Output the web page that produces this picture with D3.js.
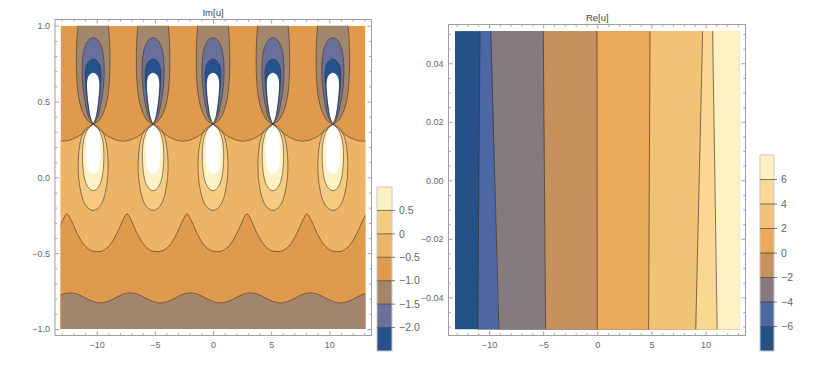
<!DOCTYPE html>
<html>
<head>
<meta charset="utf-8">
<script src="https://cdn.jsdelivr.net/npm/d3@7"></script>
<style>
body { margin: 0; background: #fff; }
text { font-family: "Liberation Sans", Arial, sans-serif; }
</style>
</head>
<body>
<svg id="chart" width="839" height="371"></svg>
<script>
// ---------- values ----------
// Im[u] panel: colour bands, low to high
var imLevels = [-2.0, -1.5, -1.0, -0.5, 0, 0.5];
var imColors = ["#25528f", "#6a7099", "#a3876c", "#e09a4e", "#edb467", "#f5cb82", "#fef1c3"];
var imLegendLabels = ["\u22122.0", "\u22121.5", "\u22121.0", "\u22120.5", "0", "0.5"];

// the five singular lobes and where their contours pinch together
var lobeCenters = [-10.3, -5.15, 0, 5.15, 10.3];
// half widths [y, halfWidth] of each closed contour, from the pinch to the tip
var upperM10 = [[0.35,0],[0.37,0.42],[0.40,0.72],[0.46,1.04],[0.53,1.25],[0.62,1.38],[0.72,1.44],[0.82,1.44],[0.92,1.39],[1.0,1.3],[1.08,1.1],[1.14,0.6],[1.16,0]];
var upperM15 = [[0.35,0],[0.40,0.4],[0.48,0.66],[0.58,0.86],[0.68,0.95],[0.76,0.93],[0.83,0.82],[0.88,0.6],[0.91,0.33],[0.92,0]];
var upperM20 = [[0.35,0],[0.41,0.3],[0.50,0.5],[0.60,0.63],[0.67,0.68],[0.72,0.64],[0.75,0.5],[0.77,0.3],[0.78,0]];
var upperHole = [[0.35,0],[0.39,0.2],[0.46,0.36],[0.54,0.48],[0.61,0.53],[0.65,0.48],[0.675,0.33],[0.69,0]];
var lowerP0 = [[0.35,0],[0.33,0.48],[0.30,0.82],[0.22,1.14],[0.11,1.28],[0.0,1.25],[-0.1,1.05],[-0.17,0.75],[-0.205,0.4],[-0.218,0]];
var lowerP05 = [[0.35,0],[0.32,0.45],[0.25,0.8],[0.15,0.92],[0.05,0.86],[-0.02,0.7],[-0.06,0.48],[-0.08,0.26],[-0.088,0]];
var lowerHole = [[0.35,0],[0.31,0.4],[0.25,0.58],[0.16,0.62],[0.09,0.56],[0.045,0.4],[0.022,0]];

// -0.5 contour under the lobes: one period [dx, y] around each pinch
var scallopCenters = [-15.45, -10.3, -5.15, 0, 5.15, 10.3, 15.45];
var scallopShape = [[-2.575,0.238],[-2.0,0.245],[-1.4,0.265],[-0.9,0.29],[-0.4,0.325],[0,0.35],[0.4,0.325],[0.9,0.29],[1.4,0.265],[2.0,0.245]];
// lower -0.5 contour: one period [dx, y] around each trough
var midTroughs = [-15.13, -9.97, -4.81, 0.34, 5.5, 10.66, 15.82];
var midShape = [[-2.58,-0.24],[-2.3,-0.27],[-2.0,-0.32],[-1.5,-0.40],[-1.0,-0.455],[-0.5,-0.483],[0,-0.49],[0.5,-0.483],[1.0,-0.455],[1.5,-0.40],[2.0,-0.32],[2.3,-0.27]];
// -1.0 contour near the bottom
var lowTroughs = [-14.85, -9.69, -4.53, 0.63, 5.79, 10.95, 16.11];
var lowShape = [[-2.58,-0.762],[-1.9,-0.772],[-1.3,-0.795],[-0.65,-0.818],[0,-0.828],[0.65,-0.818],[1.3,-0.795],[1.9,-0.772]];

// Re[u] panel
var reLevels = [-6, -4, -2, 0, 2, 4, 6];
var reColors = ["#255189", "#4c67a4", "#857b7f", "#c5915d", "#e9aa59", "#f2c276", "#fad893", "#fff1c1"];
var reLegendLabels = ["\u22126", "\u22124", "\u22122", "0", "2", "4", "6"];
// x where each contour meets the top (y = 0.051) and bottom (y = -0.051) edge
var reTopX = [-10.83, -9.84, -4.99, -0.03, 4.87, 9.73, 10.65];
var reBottomX = [-11.04, -9.08, -4.77, 0.0, 4.74, 9.09, 11.07];

var imXTicks = [-10, -5, 0, 5, 10], imYTicks = [-1, -0.5, 0, 0.5, 1];
var reXTicks = [-10, -5, 0, 5, 10], reYTicks = [-0.04, -0.02, 0, 0.02, 0.04];

// ---------- drawing ----------
var svg = d3.select("#chart");
var lineCol = "rgba(55,45,35,0.7)";

var xL = d3.scaleLinear().domain([-13.1, 13.1]).range([60.6, 365.4]);
var yL = d3.scaleLinear().domain([-1, 1]).range([329, 25.7]);
var xR = d3.scaleLinear().domain([-13.15, 13.15]).range([454.9, 739.7]);
var yR = d3.scaleLinear().domain([-0.051, 0.051]).range([329.5, 31.1]);

var defs = svg.append("defs");
defs.append("clipPath").attr("id", "clipL").append("rect")
    .attr("x", xL(-13.1)).attr("y", yL(1))
    .attr("width", xL(13.1) - xL(-13.1)).attr("height", yL(-1) - yL(1));
defs.append("clipPath").attr("id", "clipR").append("rect")
    .attr("x", xR(-13.15)).attr("y", yR(0.051))
    .attr("width", xR(13.15) - xR(-13.15)).attr("height", yR(-0.051) - yR(0.051));

// repeat a read profile at each anchor
function periodic(anchors, shape) {
  var pts = [];
  anchors.forEach(function(a) {
    shape.forEach(function(p) { pts.push([a + p[0], p[1]]); });
  });
  return pts;
}
function lobe(profile, cx) {
  var left = profile.map(function(p) { return [cx - p[1], p[0]]; });
  var right = profile.slice(0, -1).reverse().map(function(p) { return [cx + p[1], p[0]]; });
  return left.concat(right);
}

var gL = svg.append("g").attr("clip-path", "url(#clipL)");
gL.append("rect")
    .attr("x", xL(-13.1)).attr("y", yL(1))
    .attr("width", xL(13.1) - xL(-13.1)).attr("height", yL(-1) - yL(1))
    .attr("fill", imColors[3]);

var scallop = periodic(scallopCenters, scallopShape);
var midWave = periodic(midTroughs, midShape);
var lowWave = periodic(lowTroughs, lowShape);

function under(curve) {
  return d3.area().x(function(d) { return xL(d[0]); })
      .y0(yL(-1.1)).y1(function(d) { return yL(d[1]); }).curve(curve);
}
var lineL = function(curve) {
  return d3.line().x(function(d) { return xL(d[0]); }).y(function(d) { return yL(d[1]); }).curve(curve);
};

gL.append("path").attr("d", under(d3.curveLinear)(scallop)).attr("fill", imColors[4]);
gL.append("path").attr("d", under(d3.curveCatmullRom)(midWave)).attr("fill", imColors[3]);
gL.append("path").attr("d", under(d3.curveCatmullRom)(lowWave)).attr("fill", imColors[2]);

var lobeLine = lineL(d3.curveCatmullRom);
var upperSet = [[upperM10, imColors[2], true], [upperM15, imColors[1], true], [upperM20, imColors[0], true], [upperHole, "#fff", false]];
var lowerSet = [[lowerP0, imColors[5], true], [lowerP05, imColors[6], true], [lowerHole, "#fff", false]];

lobeCenters.forEach(function(cx) {
  upperSet.concat(lowerSet).forEach(function(s) {
    gL.append("path").attr("d", lobeLine(lobe(s[0], cx)) + "Z")
        .attr("fill", s[1]);
  });
});

// contour lines
gL.append("path").attr("d", lineL(d3.curveLinear)(scallop)).attr("fill", "none").attr("stroke", lineCol).attr("stroke-width", 0.8);
gL.append("path").attr("d", lineL(d3.curveCatmullRom)(midWave)).attr("fill", "none").attr("stroke", lineCol).attr("stroke-width", 0.8);
gL.append("path").attr("d", lineL(d3.curveCatmullRom)(lowWave)).attr("fill", "none").attr("stroke", lineCol).attr("stroke-width", 0.8);
lobeCenters.forEach(function(cx) {
  upperSet.concat(lowerSet).forEach(function(s) {
    if (!s[2]) return;
    gL.append("path").attr("d", lobeLine(lobe(s[0], cx)))
        .attr("fill", "none").attr("stroke", lineCol).attr("stroke-width", 0.8);
  });
});

// Re[u] panel
var gR = svg.append("g").attr("clip-path", "url(#clipR)");
gR.append("rect")
    .attr("x", xR(-13.15)).attr("y", yR(0.051))
    .attr("width", xR(13.15) - xR(-13.15)).attr("height", yR(-0.051) - yR(0.051))
    .attr("fill", reColors[0]);
reLevels.forEach(function(lv, i) {
  var pts = [[reTopX[i], 0.06], [reBottomX[i], -0.06], [14, -0.06], [14, 0.06]];
  gR.append("path")
      .attr("d", "M" + pts.map(function(p) { return xR(p[0]) + "," + yR(p[1]); }).join("L") + "Z")
      .attr("fill", reColors[i + 1]);
});
reLevels.forEach(function(lv, i) {
  gR.append("line")
      .attr("x1", xR(reTopX[i])).attr("y1", yR(0.051))
      .attr("x2", xR(reBottomX[i])).attr("y2", yR(-0.051))
      .attr("stroke", lineCol).attr("stroke-width", 0.9);
});

// frames and ticks
function frame(x, y, box, xt, xMinor, yt, yMinor, yFmt) {
  var g = svg.append("g");
  g.append("rect").attr("x", box[0]).attr("y", box[1])
      .attr("width", box[2] - box[0]).attr("height", box[3] - box[1])
      .attr("fill", "none").attr("stroke", "#a0a0a0").attr("stroke-width", 1);
  function put(axis, tx, ty) {
    var a = g.append("g").attr("transform", "translate(" + tx + "," + ty + ")").call(axis);
    a.select(".domain").remove();
    a.selectAll("line").attr("stroke", "#a0a0a0");
    a.selectAll("text").attr("fill", "#666").style("font-size", "9px");
    return a;
  }
  put(d3.axisBottom(x).tickValues(xt).tickSize(-4).tickPadding(6.5).tickFormat(d3.format("d")), 0, box[3]);
  put(d3.axisBottom(x).tickValues(xMinor).tickSize(-2.2).tickFormat(""), 0, box[3]);
  put(d3.axisTop(x).tickValues(xt).tickSize(-4).tickFormat(""), 0, box[1]);
  put(d3.axisTop(x).tickValues(xMinor).tickSize(-2.2).tickFormat(""), 0, box[1]);
  put(d3.axisLeft(y).tickValues(yt).tickSize(-4).tickPadding(5).tickFormat(yFmt), box[0], 0);
  put(d3.axisLeft(y).tickValues(yMinor).tickSize(-2.2).tickFormat(""), box[0], 0);
  put(d3.axisRight(y).tickValues(yt).tickSize(-4).tickFormat(""), box[2], 0);
  put(d3.axisRight(y).tickValues(yMinor).tickSize(-2.2).tickFormat(""), box[2], 0);
}
var intMinor = d3.range(-13, 14).filter(function(v) { return v % 5 !== 0; });
frame(xL, yL, [55, 19.5, 371.5, 335.5], imXTicks, intMinor, imYTicks,
      d3.range(-10, 11).filter(function(v) { return v % 5 !== 0; }).map(function(v) { return v / 10; }),
      d3.format(".1f"));
frame(xR, yR, [448.5, 24.5, 745.5, 335.5], reXTicks, intMinor, reYTicks,
      d3.range(-10, 11).filter(function(v) { return v % 4 !== 0; }).map(function(v) { return v / 200; }),
      d3.format(".2f"));

svg.append("text").attr("x", xL(0)).attr("y", 16).attr("text-anchor", "middle")
    .style("font-size", "9.5px").attr("fill", "#444").text("Im[u]");
svg.append("text").attr("x", xR(0)).attr("y", 21).attr("text-anchor", "middle")
    .style("font-size", "9.5px").attr("fill", "#444").text("Re[u]");

// legends
function legend(x0, x1, scale, levels, colors, labels, lo, hi) {
  var g = svg.append("g");
  var edges = [lo].concat(levels).concat([hi]);
  colors.forEach(function(c, i) {
    g.append("rect").attr("x", x0).attr("y", scale(edges[i + 1]))
        .attr("width", x1 - x0).attr("height", scale(edges[i]) - scale(edges[i + 1]))
        .attr("fill", c);
  });
  g.append("rect").attr("x", x0).attr("y", scale(hi)).attr("width", x1 - x0)
      .attr("height", scale(lo) - scale(hi)).attr("fill", "none").attr("stroke", "#c8c8c8");
  levels.forEach(function(lv, i) {
    g.append("line").attr("x1", x0).attr("x2", x1 + 3)
        .attr("y1", scale(lv)).attr("y2", scale(lv))
        .attr("stroke", lineCol).attr("stroke-width", 0.9);
    g.append("text").attr("x", x1 + 7).attr("y", scale(lv)).attr("dy", "0.35em")
        .style("font-size", "10.5px").attr("fill", "#666").text(labels[i]);
  });
}
var legL = d3.scaleLinear().domain([-2.5, 1.0]).range([351, 187]);
var legR = d3.scaleLinear().domain([-8, 8]).range([351, 155]);
legend(377, 392, legL, imLevels, imColors, imLegendLabels, -2.5, 1.0);
legend(760, 774, legR, reLevels, reColors, reLegendLabels, -8, 8);
</script>
</body>
</html>
